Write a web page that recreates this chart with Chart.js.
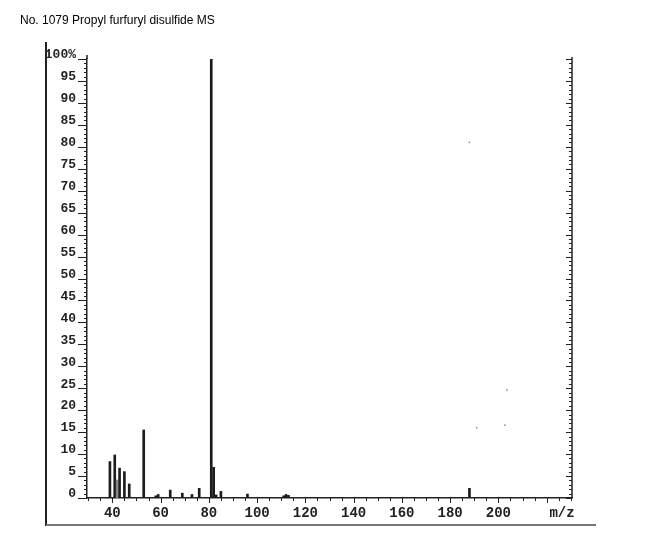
<!DOCTYPE html>
<html>
<head>
<meta charset="utf-8">
<script src="https://cdn.jsdelivr.net/npm/chart.js@4.4.1/dist/chart.umd.min.js"></script>
<style>
  html, body { margin: 0; padding: 0; background: #fff; }
  canvas { display: block; }
</style>
</head>
<body>
<canvas id="c" width="650" height="557"></canvas>
<script>
// ---- data ----
const titleText = "No. 1079 Propyl furfuryl disulfide MS";
const mz        = [39, 41, 42, 43, 45, 47, 53, 58, 59, 64, 69, 73, 76, 81, 82, 83, 85, 96, 111, 112, 113, 188];
const intensity = [8.3, 9.8, 4.1, 6.8, 6.0, 3.2, 15.5, 0.5, 0.8, 1.8, 1.1, 0.8, 2.2, 100, 7.0, 0.7, 1.5, 0.9, 0.5, 0.8, 0.6, 2.2];
const speckMz   = [188, 191, 203.5, 202.7];
const speckInt  = [81, 16, 24.6, 16.6];
const xTickLabels = [40, 60, 80, 100, 120, 140, 160, 180, 200];
const xMin = 29.5, xMax = 230.5;
const yMin = 0, yMax = 100, yStep = 5;
const xAxisTitle = "m/z";

const monoFont = '"Liberation Mono", "DejaVu Sans Mono", monospace';

const decor = {
  id: 'decor',
  afterDraw(chart) {
    const ctx = chart.ctx;
    const xs = chart.scales.x, ys = chart.scales.y;
    const a = chart.chartArea;
    ctx.save();
    ctx.strokeStyle = '#222';
    ctx.lineWidth = 1;
    // y ticks (left axis, outward) and right axis (inward)
    for (let v = yMin; v <= yMax; v += 1) {
      const y = Math.round(ys.getPixelForValue(v)) + 0.5;
      const major = v % 5 === 0;
      ctx.beginPath();
      ctx.moveTo(a.left - (major ? 9 : 3), y);
      ctx.lineTo(a.left, y);
      ctx.moveTo(a.right - (major ? 6 : 3), y);
      ctx.lineTo(a.right, y);
      ctx.stroke();
    }
    // right axis line
    ctx.lineWidth = 1.5;
    ctx.beginPath();
    ctx.moveTo(a.right, a.top - 2);
    ctx.lineTo(a.right, a.bottom);
    ctx.stroke();
    // left axis extension above 100
    ctx.beginPath();
    ctx.moveTo(a.left, a.top - 4);
    ctx.lineTo(a.left, a.top);
    ctx.stroke();
    // x ticks
    ctx.lineWidth = 1;
    for (let v = 30; v <= 230; v += 5) {
      const x = Math.round(xs.getPixelForValue(v)) + 0.5;
      const len = v % 20 === 0 ? 5 : 3;
      ctx.beginPath();
      ctx.moveTo(x, a.bottom);
      ctx.lineTo(x, a.bottom + len);
      ctx.stroke();
    }
    // x axis title
    ctx.fillStyle = '#222';
    ctx.font = 'bold 14px ' + monoFont;
    ctx.textAlign = 'center';
    ctx.textBaseline = 'middle';
    ctx.fillText(xAxisTitle, 562, 513);
    // title
    ctx.fillStyle = '#000';
    ctx.font = '12px "Liberation Sans", Arial, sans-serif';
    ctx.textAlign = 'left';
    ctx.textBaseline = 'alphabetic';
    ctx.fillText(titleText, 20, 24);
    // scan frame
    ctx.strokeStyle = '#222';
    ctx.lineWidth = 2;
    ctx.beginPath();
    ctx.moveTo(46, 42);
    ctx.lineTo(46, 526);
    ctx.stroke();
    ctx.strokeStyle = '#777';
    ctx.beginPath();
    ctx.moveTo(46, 525);
    ctx.lineTo(596, 525);
    ctx.stroke();
    ctx.restore();
  }
};

new Chart(document.getElementById('c'), {
  type: 'bar',
  data: {
    datasets: [
      {
        type: 'bar',
        data: mz.map((m, i) => ({ x: m, y: intensity[i] })),
        backgroundColor: mz.map(m => (m === 42 ? '#8a8a8a' : '#1c1c1c')),
        barThickness: 2,
        grouped: false
      },
      {
        type: 'scatter',
        data: speckMz.map((m, i) => ({ x: m, y: speckInt[i] })),
        pointRadius: 0.9,
        pointBackgroundColor: '#999',
        pointBorderWidth: 0
      }
    ]
  },
  plugins: [decor],
  options: {
    responsive: false,
    animation: false,
    layout: { padding: { left: 0, top: 59, right: 78, bottom: 0 } },
    plugins: { legend: { display: false }, tooltip: { enabled: false }, title: { display: false } },
    scales: {
      x: {
        type: 'linear',
        offset: false,
        min: xMin, max: xMax,
        afterBuildTicks: s => { s.ticks = xTickLabels.map(v => ({ value: v })); },
        afterFit: s => { s.height = 59; },
        grid: { display: false, drawTicks: false, offset: false },
        border: { display: true, color: '#222', width: 1.5 },
        ticks: {
          padding: 7,
          color: '#222',
          maxRotation: 0,
          autoSkip: false,
          font: { family: monoFont, size: 14, weight: 'bold' }
        }
      },
      y: {
        min: yMin, max: yMax,
        afterFit: s => { s.width = 87; },
        grid: { display: false, drawTicks: false },
        border: { display: true, color: '#222', width: 1.5 },
        ticks: {
          stepSize: yStep,
          padding: 11,
          labelOffset: -4,
          color: '#222',
          font: { family: monoFont, size: 13, weight: 'bold' },
          callback: v => (v === 100 ? '100%' : String(v))
        }
      }
    }
  }
});
</script>
</body>
</html>
